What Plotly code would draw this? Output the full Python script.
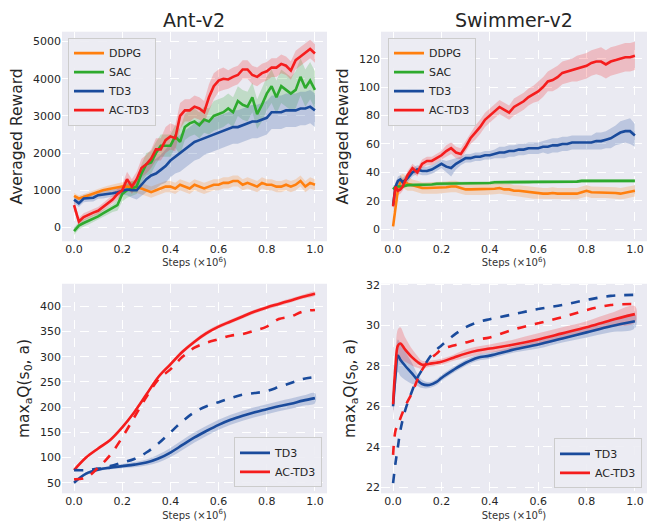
import plotly.graph_objects as go

# ---------------- data ----------------
ant_x = [round(i * 0.02, 2) for i in range(51)]
ant_ddpg = [850,780,820,870,920,950,1000,1030,1060,1080, 1100,1100,1100,1080,1050,1000,950,1000,1050,1100,
            1100,1050,1150,1100,1050,1150,1100,1050,1100,1150, 1150,1200,1200,1250,1250,1150,1200,1150,1100,1200,
            1150,1150,1100,1100,1150,1100,1150,1250,1100,1200, 1150]
ant_ddpg_sd = [80,80,80,80,80,80,80,90,100,100, 120,120,150,150,150,150,150,150,150,150,
               150,150,150,150,150,150,150,150,150,150, 150,150,150,150,150,150,150,150,150,150,
               150,150,150,150,150,150,150,150,150,150, 150]
ant_sac = [-100,50,120,180,230,300,380,450,520,600, 900,1000,1050,1100,1450,1700,1750,2000,2200,2200,
           2200,2450,2300,2700,2800,2850,2750,2900,2850,3000, 3050,3100,3200,3100,3400,3300,3250,3500,3050,3300,
           3600,3800,3500,3800,3700,3600,3700,4050,3750,3950, 3700]
ant_sac_sd = [100,100,100,100,100,100,100,100,100,150, 200,200,200,200,250,300,300,300,300,300,
              300,300,350,350,350,350,350,350,350,400, 400,400,400,400,400,400,400,400,400,450,
              450,450,450,450,450,450,500,500,500,500, 500]
ant_td3 = [750,650,780,790,800,870,880,900,920,950, 980,1020,1000,1000,1150,1300,1400,1450,1550,1650,
           1800,1900,2000,2100,2200,2300,2350,2400,2450,2500, 2550,2600,2650,2700,2700,2750,2800,2850,2850,2900,
           2950,3100,3100,3100,3150,3150,3150,3200,3200,3250, 3150]
ant_td3_sd = [100,100,100,100,100,100,100,100,100,100, 100,150,200,250,300,350,400,400,400,450,
              450,450,500,500,500,500,500,450,450,450, 450,450,450,450,450,450,450,450,450,450,
              450,450,450,450,450,450,450,450,450,450, 450]
ant_actd3 = [600,160,280,350,400,450,550,650,750,900, 1000,1300,1100,1300,1600,1700,1850,2100,2100,2350,
             2450,2400,3000,3150,3150,3250,3200,3100,3500,3800, 3950,4000,3980,4050,4100,4250,4250,4100,4050,4150,
             4200,4300,4300,4400,4350,4220,4500,4600,4700,4800, 4680]
ant_actd3_sd = [150,100,100,100,100,100,100,120,120,150, 150,200,200,200,250,250,250,300,300,350,
                350,350,350,300,300,300,300,300,350,350, 300,300,250,250,250,250,250,250,250,250,
                250,250,250,250,250,250,250,250,250,250, 250]

sw_x = [0, 0.01, 0.02, 0.03, 0.04] + [round(0.06 + i * 0.02, 2) for i in range(48)]
sw_ddpg = [2,15,28,33,34, 32,31,30,29,29, 29,29,29,29.5,30, 30,29,28,28,28, 28,28,28,28.5,29,
           28,28,27,27,26.5, 26,25.5,25,25,25, 25.5,25,25,25,25, 25,26,27,26,26, 26,26,26,25.5,25, 25.5,26,27]
sw_ddpg_sd = [3,4,5,5,5, 5,4,4,4,4, 4,4,4,4,4, 4,4,4,4,4, 4,4,4,4,4, 4,4,4,4,4, 4,4,4,4,4,
              4,4,4,4,4, 4,4,4,4,4, 4,4,4,4,4, 4,4,4]
sw_sac = [28,30,30,30,30, 31,31,31,31,31.5, 31.5,32,32,32,32, 32,32.5,32.5,32.5,32.5, 32.5,32.5,32.5,33,33,
          33,33,33,33,33, 33,33.5,33.5,33.5,33.5, 33.5,33.5,33.5,33.5,33.5, 33.5,34,34,34,34, 34,34,34,34,34, 34,34,34]
sw_sac_sd = [1.2] * 53
sw_td3 = [17,30,34,35,33, 36,40,42,41,41, 42,44,46,44,43, 46,48,50,50,51, 51,52,52,53,54,
          54,55,55,56,56, 57,57,57,58,58, 59,59,60,60,61, 61,61,61,61,62, 62,63,64,66,68, 69,69,66]
sw_td3_sd = [3,3,3,3,3, 3,3,3,3,3, 3,3,3,4,6, 4,3,3,3,3, 3,3,3,3,4, 4,4,4,4,4, 4,4,4,4,5,
             5,5,5,5,5, 5,5,5,5,6, 6,6,7,7,8, 8,9,8]
sw_actd3 = [16,30,27,28,30, 38,43,40,46,48, 48,50,52,55,57, 54,53,58,64,68, 72,77,80,83,86,
            84,82,86,88,90, 93,95,97,100,104, 105,107,110,111,112, 113,114,115,117,118, 118,116,118,119,120, 121,121,122]
sw_actd3_sd = [3,3,3,3,3, 3,3,3,3,3, 3,3,3,4,4, 4,4,4,4,5, 5,5,5,5,5, 5,5,6,6,6, 6,6,7,7,7,
               8,8,8,8,8, 9,9,9,9,9, 10,10,10,10,10, 10,10,10]

qa_x = [round(i * 0.05, 2) for i in range(21)]
qa_td3 = [50,68,76,80,83,86,90,98,110,125,140,153,165,175,183,190,196,202,207,213,218]
qa_td3_sd = [3,3,3,3,4,5,6,8,9,10,10,10,10,10,10,10,10,10,10,10,10]
qa_td3_dash = [75,75,78,83,90,97,110,128,150,172,190,202,210,218,225,228,232,240,248,256,260]
qa_actd3 = [75,100,118,135,160,190,225,260,285,310,330,347,360,370,380,390,398,405,412,419,425]
qa_actd3_sd = [3,3,3,3,3,3,3,3,4,4,4,4,4,4,4,4,4,4,4,4,4]
qa_actd3_dash = [57,60,80,105,140,180,220,255,275,300,318,328,335,342,345,352,360,375,380,390,393]

qs_x = [0, 0.01, 0.02, 0.03, 0.05, 0.08, 0.1, 0.12, 0.15, 0.18, 0.2, 0.25, 0.3, 0.35, 0.4, 0.5, 0.6, 0.7, 0.8, 0.9, 1.0]
qs_td3 = [26.0,27.5,28.5,28.3,28.0,27.6,27.3,27.1,27.05,27.2,27.4,27.8,28.15,28.4,28.5,28.8,29.05,29.35,29.65,29.95,30.2]
qs_td3_sd = [0.5,0.7,0.8,0.8,0.7,0.5,0.3,0.2,0.15,0.15,0.15,0.15,0.15,0.15,0.15,0.15,0.2,0.2,0.25,0.3,0.35]
qs_td3_dash = [22.2,23.2,24.0,24.8,25.8,26.8,27.4,27.8,28.4,28.8,29.0,29.5,29.9,30.15,30.3,30.55,30.8,31.0,31.25,31.45,31.5]
qs_actd3 = [26.1,28.0,29.0,29.1,28.8,28.4,28.2,28.05,28.1,28.15,28.2,28.4,28.6,28.75,28.85,29.05,29.3,29.6,29.9,30.25,30.55]
qs_actd3_sd = [0.5,0.7,0.8,0.8,0.6,0.4,0.3,0.2,0.15,0.15,0.15,0.15,0.2,0.2,0.2,0.25,0.3,0.3,0.3,0.35,0.4]
qs_actd3_dash = [23.6,24.8,25.1,25.4,26.0,26.7,27.3,27.8,28.3,28.6,28.8,29.0,29.15,29.3,29.4,29.8,30.1,30.4,30.75,31.0,31.05]

x_ticks = [0.0, 0.2, 0.4, 0.6, 0.8, 1.0]

# ---------------- style ----------------
C = {"DDPG": (255, 127, 14), "SAC": (46, 170, 46), "TD3": (26, 75, 156), "AC-TD3": (245, 29, 29)}
def rgb(c, a=None):
    return f"rgb{c}" if a is None else f"rgba({c[0]},{c[1]},{c[2]},{a})"

fig = go.Figure()

def band(x, y, sd, name, xa, ya, shape="linear"):
    up = [a + b for a, b in zip(y, sd)]
    lo = [a - b for a, b in zip(y, sd)]
    fig.add_trace(go.Scatter(x=list(x) + list(x)[::-1], y=up + lo[::-1], fill="toself",
                             fillcolor=rgb(C[name], 0.22), line=dict(width=0, shape=shape),
                             mode="lines", hoverinfo="skip", showlegend=False, xaxis=xa, yaxis=ya))

def line(x, y, name, xa, ya, legend, show=True, dash="solid", shape="linear"):
    fig.add_trace(go.Scatter(x=x, y=y, mode="lines", name=name,
                             line=dict(color=rgb(C[name]), width=2.6, dash=dash, shape=shape),
                             showlegend=show, legend=legend, xaxis=xa, yaxis=ya))

# Ant-v2 reward
for nm, y, sd in [("DDPG", ant_ddpg, ant_ddpg_sd), ("SAC", ant_sac, ant_sac_sd),
                  ("TD3", ant_td3, ant_td3_sd), ("AC-TD3", ant_actd3, ant_actd3_sd)]:
    band(ant_x, y, sd, nm, "x", "y")
for nm, y in [("DDPG", ant_ddpg), ("SAC", ant_sac), ("TD3", ant_td3), ("AC-TD3", ant_actd3)]:
    line(ant_x, y, nm, "x", "y", "legend")

# Swimmer-v2 reward
for nm, y, sd in [("DDPG", sw_ddpg, sw_ddpg_sd), ("SAC", sw_sac, sw_sac_sd),
                  ("TD3", sw_td3, sw_td3_sd), ("AC-TD3", sw_actd3, sw_actd3_sd)]:
    band(sw_x, y, sd, nm, "x2", "y2")
for nm, y in [("DDPG", sw_ddpg), ("SAC", sw_sac), ("TD3", sw_td3), ("AC-TD3", sw_actd3)]:
    line(sw_x, y, nm, "x2", "y2", "legend2")

# Ant Q
band(qa_x, qa_td3, qa_td3_sd, "TD3", "x3", "y3", "spline")
band(qa_x, qa_actd3, qa_actd3_sd, "AC-TD3", "x3", "y3", "spline")
line(qa_x, qa_td3, "TD3", "x3", "y3", "legend3", shape="spline")
line(qa_x, qa_actd3, "AC-TD3", "x3", "y3", "legend3", shape="spline")
line(qa_x, qa_td3_dash, "TD3", "x3", "y3", "legend3", show=False, dash="dash", shape="spline")
line(qa_x, qa_actd3_dash, "AC-TD3", "x3", "y3", "legend3", show=False, dash="dash", shape="spline")

# Swimmer Q
band(qs_x, qs_td3, qs_td3_sd, "TD3", "x4", "y4", "spline")
band(qs_x, qs_actd3, qs_actd3_sd, "AC-TD3", "x4", "y4", "spline")
line(qs_x, qs_td3, "TD3", "x4", "y4", "legend4", shape="spline")
line(qs_x, qs_actd3, "AC-TD3", "x4", "y4", "legend4", shape="spline")
line(qs_x, qs_td3_dash, "TD3", "x4", "y4", "legend4", show=False, dash="dash", shape="spline")
line(qs_x, qs_actd3_dash, "AC-TD3", "x4", "y4", "legend4", show=False, dash="dash", shape="spline")

W, H = 655, 523
def px_x(a): return a / W
def px_y(b): return 1 - b / H

dom_l = [px_x(62), px_x(327)]
dom_r = [px_x(381), px_x(647)]
dom_t = [px_y(239), px_y(27)]
dom_b = [px_y(494), px_y(282)]

tickfont = dict(family="DejaVu Sans", size=11, color="#262626")
xtitle = dict(text="Steps (×10<sup>6</sup>)", font=dict(family="DejaVu Sans", size=10, color="#333333"), standoff=2)
common_x = dict(range=[-0.05, 1.05], tickvals=x_ticks, tickformat=".1f", showgrid=True, gridcolor="white",
                griddash="dash", gridwidth=1, zeroline=False, showline=False, ticks="", tickfont=tickfont,
                title=xtitle)
def yax(rng, dtick, title, dom, anchor):
    return dict(range=rng, dtick=dtick, domain=dom, anchor=anchor, showgrid=True, gridcolor="white",
                griddash="dash", gridwidth=1, zeroline=False, showline=False, ticks="", tickfont=tickfont,
                title=dict(text=title, font=dict(family="DejaVu Sans", size=15.5, color="#262626"), standoff=6))

qtitle = "max<sub>a</sub>Q(s<sub>0</sub>, a)"
leg_common = dict(bgcolor="rgba(236,236,243,0.9)", bordercolor="#cccccc", borderwidth=1,
                  font=dict(family="DejaVu Sans", size=11, color="#262626"), itemwidth=30)

fig.update_layout(
    width=W, height=H, margin=dict(l=0, r=0, t=0, b=0),
    paper_bgcolor="white", plot_bgcolor="#eaeaf2",
    xaxis=dict(common_x, domain=dom_l, anchor="y"),
    xaxis2=dict(common_x, domain=dom_r, anchor="y2"),
    xaxis3=dict(common_x, domain=dom_l, anchor="y3"),
    xaxis4=dict(common_x, domain=dom_r, anchor="y4"),
    yaxis=yax([-370, 5265], 1000, "Averaged Reward", dom_t, "x"),
    yaxis2=yax([-8.5, 139], 20, "Averaged Reward", dom_t, "x2"),
    yaxis3=yax([29, 445], 50, qtitle, dom_b, "x3"),
    yaxis4=yax([21.7, 32.05], 2, qtitle, dom_b, "x4"),
    legend=dict(leg_common, x=px_x(68), y=px_y(33), xanchor="left", yanchor="top"),
    legend2=dict(leg_common, x=px_x(388), y=px_y(33), xanchor="left", yanchor="top"),
    legend3=dict(leg_common, x=px_x(322), y=px_y(488), xanchor="right", yanchor="bottom"),
    legend4=dict(leg_common, x=px_x(642), y=px_y(489), xanchor="right", yanchor="bottom"),
    annotations=[
        dict(text="Ant-v2", x=px_x(194), y=px_y(15), xref="paper", yref="paper", showarrow=False,
             font=dict(family="DejaVu Sans", size=19, color="#262626"), xanchor="center", yanchor="middle"),
        dict(text="Swimmer-v2", x=px_x(514), y=px_y(15), xref="paper", yref="paper", showarrow=False,
             font=dict(family="DejaVu Sans", size=19, color="#262626"), xanchor="center", yanchor="middle"),
    ],
)

fig.write_html("out.html", config={"displayModeBar": False},
               post_script="document.body.style.margin='0';document.body.style.overflow='hidden';")
